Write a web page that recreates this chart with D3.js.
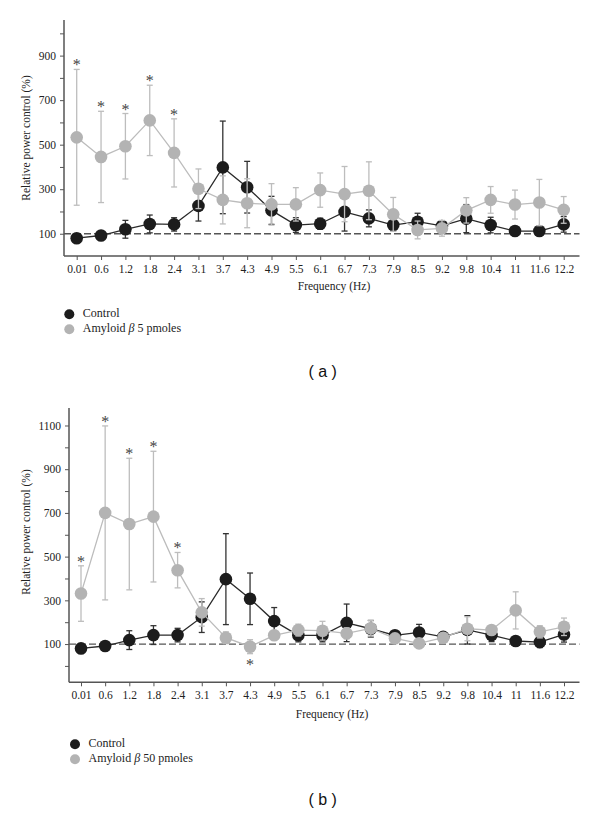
<!DOCTYPE html>
<html><head><meta charset="utf-8">
<script src="https://cdn.jsdelivr.net/npm/d3@7"></script>
<style>
html,body{margin:0;padding:0;background:#fff;}
svg{display:block;}
</style></head>
<body><svg id="c" width="600" height="816"></svg>
<script>
const freqLabels = ["0.01","0.6","1.2","1.8","2.4","3.1","3.7","4.3","4.9","5.5","6.1","6.7","7.3","7.9","8.5","9.2","9.8","10.4","11","11.6","12.2"];

// Panel (a)
const ctrlA    = [80, 92, 120, 144, 142, 225, 398, 309, 205, 139, 145, 198, 169, 139, 154, 135, 168, 139, 112, 112, 142];
const ctrlAErr = [8, 8, 40, 40, 30, 68, 208, 116, 63, 33, 25, 86, 38, 25, 38, 24, 63, 35, 15, 20, 35];
const amyA     = [533, 445, 493, 609, 463, 302, 252, 237, 232, 232, 296, 278, 293, 187, 117, 124, 205, 252, 231, 240, 207];
const amyAErr  = [305, 205, 147, 158, 153, 89, 108, 110, 93, 75, 77, 124, 130, 76, 40, 35, 57, 60, 65, 104, 60];
const starsAbove_A = [0, 1, 2, 3, 4];
const starsBelow_A = [];
const yTicksA = [100, 200, 300, 400, 500, 600, 700, 800, 900, 1000];
const yLabelsA = [100, 300, 500, 700, 900];

// Panel (b)
const ctrlB    = [80, 91, 118, 141, 141, 223, 397, 307, 205, 140, 140, 197, 170, 140, 153, 133, 165, 141, 114, 109, 144];
const ctrlBErr = [8, 8, 43, 43, 31, 70, 208, 118, 62, 30, 30, 86, 38, 20, 37, 20, 65, 30, 12, 25, 35];
const amyB     = [331, 700, 649, 683, 438, 245, 129, 88, 140, 164, 161, 149, 172, 126, 103, 129, 170, 164, 254, 156, 179];
const amyBErr  = [127, 398, 301, 299, 81, 63, 27, 32, 20, 27, 43, 25, 35, 15, 15, 20, 55, 20, 85, 28, 40];
const starsAbove_B = [0, 1, 2, 3, 4];
const starsBelow_B = [7];
const yTicksB = [0, 100, 200, 300, 400, 500, 600, 700, 800, 900, 1000, 1100];
const yLabelsB = [100, 300, 500, 700, 900, 1100];

const seriesNames = ["Control"];
const amyNameA = ["Amyloid ", "β", " 5 pmoles"];
const amyNameB = ["Amyloid ", "β", " 50 pmoles"];

const SERIF = "'Liberation Serif', 'DejaVu Serif', serif";
const SANS = "'Liberation Sans', Arial, sans-serif";
const BLACK = "#1c1c1c", GRAY = "#b3b3b3";
const svg = d3.select("#c");

function serif(sel, size) {
  return sel.style("font-family", SERIF).style("font-size", size + "px").style("fill", "#222");
}

function panel(o) {
  const g = svg.append("g");
  const x = d3.scalePoint().domain(freqLabels).range([o.x0, o.x1]);
  const y = d3.scaleLinear().domain(o.yDomain).range([o.yBottom, o.yTop]);

  const yAxis = d3.axisLeft(y).tickValues(o.yTicks).tickSize(4).tickPadding(4)
    .tickFormat(d => o.yLabels.includes(d) ? d : "");
  const ga = g.append("g").attr("transform", `translate(${o.axisX},0)`).call(yAxis);
  ga.select(".domain").attr("d", `M0,${o.yTop}V${o.yBottom}`);
  const xAxis = d3.axisBottom(x).tickSize(4).tickPadding(5);
  const gx = g.append("g").attr("transform", `translate(0,${o.yBottom})`).call(xAxis);
  gx.select(".domain").attr("d", `M${o.axisX},0H${o.axisRight}`);
  [ga, gx].forEach(s => {
    s.select(".domain").attr("stroke", "#555").attr("stroke-width", 1.5);
    s.selectAll(".tick line").attr("stroke", "#555").attr("stroke-width", 1);
    serif(s.selectAll(".tick text"), 11.5);
  });

  g.append("line").attr("x1", o.axisX).attr("x2", o.axisRight)
    .attr("y1", y(100)).attr("y2", y(100))
    .attr("stroke", "#555").attr("stroke-width", 1.3).attr("stroke-dasharray", "7,3");

  function series(vals, errs, col, lineCol, errCol) {
    const sg = g.append("g");
    sg.append("path").datum(vals)
      .attr("d", d3.line().x((d, i) => x(freqLabels[i])).y(d => y(d)))
      .attr("fill", "none").attr("stroke", lineCol).attr("stroke-width", 1.3);
    vals.forEach((v, i) => {
      const cx = x(freqLabels[i]);
      const t = y(v + errs[i]), b = y(v - errs[i]);
      sg.append("line").attr("x1", cx).attr("x2", cx).attr("y1", t).attr("y2", b).attr("stroke", errCol).attr("stroke-width", 1.3);
      [t, b].forEach(yy => sg.append("line").attr("x1", cx - 3).attr("x2", cx + 3).attr("y1", yy).attr("y2", yy).attr("stroke", errCol).attr("stroke-width", 1.3));
    });
    sg.selectAll("circle").data(vals).join("circle")
      .attr("cx", (d, i) => x(freqLabels[i])).attr("cy", d => y(d)).attr("r", 6.3)
      .attr("fill", col);
  }
  series(o.ctrl, o.ctrlErr, BLACK, "#2a2a2a", "#333");
  series(o.amy, o.amyErr, GRAY, "#bcbcbc", "#bdbdbd");

  o.starsAbove.forEach(i => {
    serif(g.append("text").attr("x", x(freqLabels[i])).attr("y", y(o.amy[i] + o.amyErr[i]) + 1)
      .attr("text-anchor", "middle"), 16).style("fill", "#444").text("*");
  });
  o.starsBelow.forEach(i => {
    serif(g.append("text").attr("x", x(freqLabels[i])).attr("y", y(o.amy[i] - o.amyErr[i]) + 16)
      .attr("text-anchor", "middle"), 16).style("fill", "#444").text("*");
  });

  serif(g.append("text").attr("transform", `translate(${o.yTitleX},${o.yTitleY}) rotate(-90)`)
    .attr("text-anchor", "middle").attr("dominant-baseline", "middle"), 11.5).text("Relative power control (%)");
  serif(g.append("text").attr("x", o.xTitleX).attr("y", o.xTitleY).attr("text-anchor", "middle")
    .attr("dominant-baseline", "middle"), 11.5).text("Frequency (Hz)");

  const lg = g.append("g");
  lg.append("circle").attr("cx", o.legX).attr("cy", o.legY).attr("r", 5).attr("fill", BLACK);
  lg.append("circle").attr("cx", o.legX).attr("cy", o.legY + 15).attr("r", 5).attr("fill", GRAY);
  serif(lg.append("text").attr("x", o.legX + 13.5).attr("y", o.legY).attr("dominant-baseline", "middle"), 12).text(seriesNames[0]);
  const t2 = serif(lg.append("text").attr("x", o.legX + 13.5).attr("y", o.legY + 15).attr("dominant-baseline", "middle"), 12);
  t2.append("tspan").text(o.amyName[0]);
  t2.append("tspan").style("font-style", "italic").text(o.amyName[1]);
  t2.append("tspan").text(o.amyName[2]);

  g.append("text").attr("x", 322.7).attr("y", o.labelY).attr("text-anchor", "middle").attr("dominant-baseline", "middle")
    .style("font-family", SANS).style("font-size", "16px").style("fill", "#111").text(o.label);
}

panel({ctrl: ctrlA, ctrlErr: ctrlAErr, amy: amyA, amyErr: amyAErr, starsAbove: starsAbove_A, starsBelow: starsBelow_A,
  yTicks: yTicksA, yLabels: yLabelsA, yDomain: [0, 1060], yBottom: 256, yTop: 20,
  x0: 76.7, x1: 563.7, axisX: 64, axisRight: 579.5, yTitleX: 27, yTitleY: 138, xTitleX: 334, xTitleY: 287.5,
  legX: 69.3, legY: 314.3, amyName: amyNameA, label: "( a )", labelY: 372.7});

panel({ctrl: ctrlB, ctrlErr: ctrlBErr, amy: amyB, amyErr: amyBErr, starsAbove: starsAbove_B, starsBelow: starsBelow_B,
  yTicks: yTicksB, yLabels: yLabelsB, yDomain: [-75, 1180], yBottom: 682.3, yTop: 408,
  x0: 81, x1: 564, axisX: 69, axisRight: 579.5, yTitleX: 27, yTitleY: 532, xTitleX: 332, xTitleY: 715,
  legX: 75, legY: 744.3, amyName: amyNameB, label: "( b )", labelY: 800.7});
</script>
</body></html>
